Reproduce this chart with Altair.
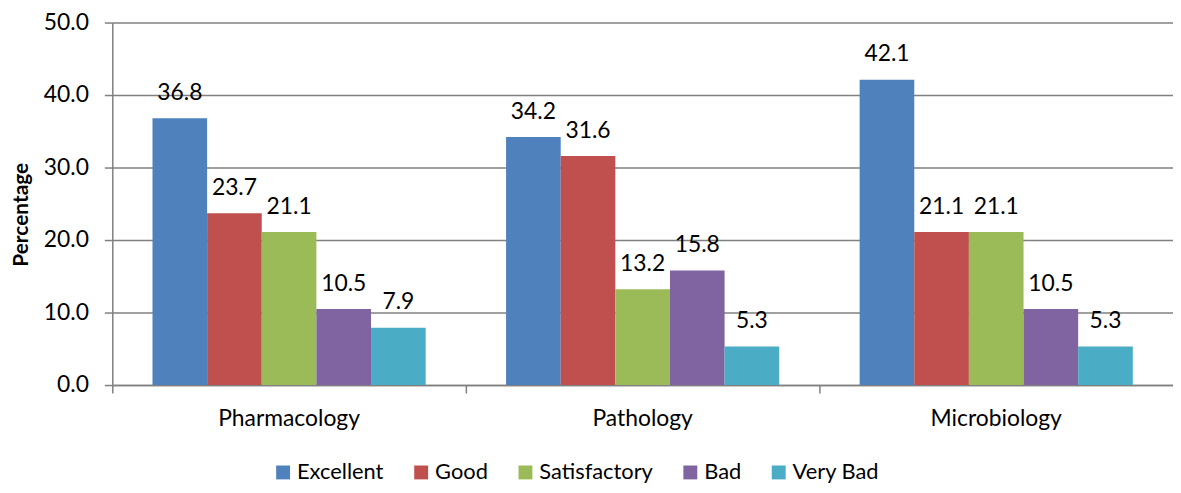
import altair as alt
import pandas as pd

subjects = ["Pharmacology", "Pathology", "Microbiology"]
ratings = ["Excellent", "Good", "Satisfactory", "Bad", "Very Bad"]
excellent = [36.8, 34.2, 42.1]
good = [23.7, 31.6, 21.1]
satisfactory = [21.1, 13.2, 21.1]
bad = [10.5, 15.8, 10.5]
very_bad = [7.9, 5.3, 5.3]
colors = ["#4F81BD", "#C0504D", "#9BBB59", "#8064A2", "#4BACC6"]
y_ticks = [0, 10, 20, 30, 40, 50]

rows = []
for name, vals in zip(ratings, [excellent, good, satisfactory, bad, very_bad]):
    for s, v in zip(subjects, vals):
        rows.append({"Subject": s, "Rating": name, "Value": v})
df = pd.DataFrame(rows)

FONT = "Lato"
W, H = 1068, 365
TOP = 13
GRID = "#808080"

x = alt.X(
    "Subject:N", sort=subjects, title=None,
    scale=alt.Scale(paddingInner=0, paddingOuter=0),
    axis=alt.Axis(bandPosition=0, labelAngle=0,
                  labelFont=FONT, labelFontSize=23, labelColor="#000000",
                  labelPadding=15, tickSize=8, tickColor=GRID, tickWidth=1.5,
                  domainColor=GRID, domainWidth=1.5, grid=False),
)
xo = alt.XOffset("Rating:N", sort=ratings,
                 scale=alt.Scale(paddingInner=0, paddingOuter=0.736))
y = alt.Y(
    "Value:Q",
    scale=alt.Scale(domain=[0, 50], nice=False),
    axis=alt.Axis(values=y_ticks, format=".1f", grid=True, gridColor=GRID,
                  gridWidth=1.5, domainColor=GRID, domainWidth=1.5,
                  tickColor=GRID, tickWidth=1.5, tickSize=8, labelPadding=16,
                  labelFont=FONT, labelFontSize=23, labelColor="#000000",
                  title="Percentage", titleFont=FONT, titleFontSize=21,
                  titleFontWeight="bold", titleColor="#000000",
                  titleX=-91, titleY=193, titleBaseline="middle"),
)

bars = alt.Chart(df).mark_bar().encode(
    x=x, xOffset=xo, y=y,
    color=alt.Color(
        "Rating:N", sort=ratings,
        scale=alt.Scale(domain=ratings, range=colors),
        legend=alt.Legend(orient="none", legendX=161, legendY=442,
                          direction="horizontal", title=None,
                          symbolType="square", symbolSize=196,
                          symbolStrokeWidth=0, symbolOpacity=1,
                          labelFont=FONT, labelFontSize=22,
                          labelColor="#000000", labelOffset=3,
                          columnPadding=26, padding=0),
    ),
)

labels = alt.Chart(df).mark_text(
    dy=-18.5, baseline="alphabetic", font=FONT, fontSize=23, color="#000000"
).encode(
    x=x, xOffset=xo, y=y,
    text=alt.Text("Value:Q", format=".1f"),
)

chart = alt.layer(bars, labels).properties(
    width=W, height=H,
    autosize=alt.AutoSizeParams(type="none"),
    padding={"left": 105, "top": TOP, "right": 0, "bottom": 477 - TOP - H},
).configure_view(stroke=None)

chart.save("out.html", embed_options={"renderer": "svg", "actions": False})
